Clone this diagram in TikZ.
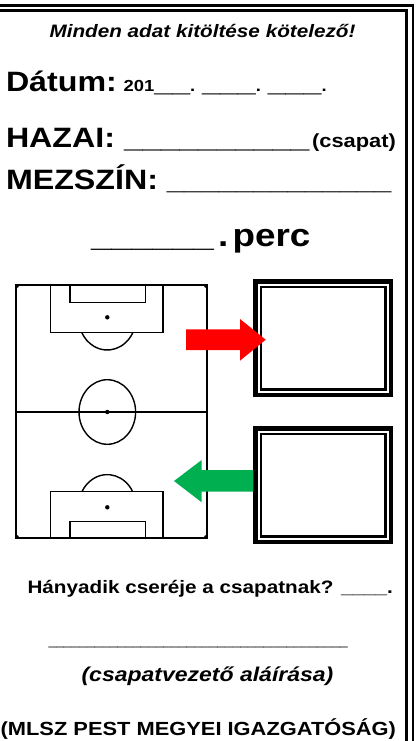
\documentclass[tikz,border=0pt]{standalone}
\usepackage{fontspec}
\setmainfont{Liberation Sans}[FakeStretch=1.15]
\definecolor{arrred}{HTML}{FF0000}
\definecolor{arrgreen}{HTML}{00B050}
\newcommand\setfs[1]{\fontsize{#1}{#1}\selectfont}
\begin{document}
\begin{tikzpicture}[x=1pt,y=-1pt,
  txt/.style={inner sep=0pt,outer sep=0pt,anchor=base west},
  fieldline/.style={line width=1.4pt},
  spot/.style={fill=black},
  dbox/.style={draw,line width=4.2pt,minimum width=135.8pt,minimum height=113.2pt,inner sep=0pt,outer sep=0pt},
  dboxin/.style={line width=2.8pt}]
\useasboundingbox (0,0) rectangle (415,741);
% page frame
\draw[line width=2.8pt,line join=miter] (-5,5.2) -| (413,750);
\draw[line width=3.4pt,line join=miter] (-5,10.4) -| (406.4,750);
% texts
\node[txt,anchor=base] (t1) at (202.5,37.5) {\setfs{18}\bfseries\itshape Minden adat kitöltése kötelező!};
\node[txt] (t2) at (6,92) {\setfs{28}\bfseries Dátum:{\setfs{16} 201}\_\_{\setfs{16}. }\_\_\_{\setfs{16}. }\_\_\_{\setfs{16}.}};
\node[txt] (t3) at (6,147.7) {\setfs{28}\bfseries HAZAI: {\setfs{29}\_\_\_\_\_\_\_\_\_\_}{\setfs{8} }{\setfs{19}(csapat)}};
\node[txt] (t4) at (6,189) {\setfs{28}\bfseries MEZSZÍN: {\setfs{27}\_\_\_\_\_\_\_\_\_\_\_\_\_}};
\node[txt] (t5) at (91,246.7) {\setfs{32}\bfseries \_\_\_\_\_\_{\setfs{14} }.{\setfs{10} }perc};
% field
\draw[fieldline] (16,285) rectangle (207,538);
\draw[fieldline] (16,412) -- (207,412);
\draw[fieldline] (107.3,412) ellipse [x radius=28.3pt, y radius=32.3pt];
\fill[spot] (107.3,412) circle [radius=2.2pt];
\draw[fieldline] (50.7,285) rectangle (163,332.7);
\draw[fieldline] (70,285) rectangle (145.7,302.7);
\fill[spot] (107.3,317.3) circle [radius=2.2pt];
\draw[fieldline] (132.8,332.7) arc[start angle=-28.1, end angle=-151.9, x radius=28.9pt, y radius=32.7pt];
\draw[fieldline] (50.7,491.7) rectangle (163,538);
\draw[fieldline] (70,521.7) rectangle (145.7,538);
\fill[spot] (107.3,507.3) circle [radius=2.2pt];
\draw[fieldline] (132.7,491.7) arc[start angle=28.5, end angle=151.5, x radius=28.9pt, y radius=32.7pt];
\draw[fieldline] (18.5,285) arc[start angle=0, end angle=-90, radius=2.5pt];
\draw[fieldline] (204.5,285) arc[start angle=180, end angle=270, radius=2.5pt];
\draw[fieldline] (18.5,538) arc[start angle=0, end angle=90, radius=2.5pt];
\draw[fieldline] (204.5,538) arc[start angle=180, end angle=90, radius=2.5pt];
% boxes
\node[dbox] (box1) at (323.3,338) {};
\draw[dboxin] ([shift={(5.5,5.5)}]box1.north west) rectangle ([shift={(-5.5,-5.5)}]box1.south east);
\node[dbox] (box2) at (323.3,485) {};
\draw[dboxin] ([shift={(5.5,5.5)}]box2.north west) rectangle ([shift={(-5.5,-5.5)}]box2.south east);
% arrows
\fill[arrred] (186,329.3) -- (240,329.3) -- (240,319) -- (265.7,339.7) -- (240,360.7) -- (240,350) -- (186,350) -- cycle;
\fill[arrgreen] (253.3,470) -- (201.7,470) -- (201.7,460) -- (174,481) -- (201.7,502.3) -- (201.7,491.7) -- (253.3,491.7) -- cycle;
% bottom texts
\node[txt] (t6) at (27.5,593.3) {\setfs{18}\bfseries Hányadik cseréje a csapatnak? \_\_\_\_.};
\node[txt,anchor=base] (t7) at (198.3,645) {\setfs{12}\_\_\_\_\_\_\_\_\_\_\_\_\_\_\_\_\_\_\_\_\_\_\_\_\_\_\_\_\_\_\_\_\_\_\_\_\_\_\_};
\node[txt,anchor=base] (t8) at (207.5,681.7) {\setfs{20}\bfseries\itshape (csapatvezető aláírása)};
\node[txt,anchor=base] (t9) at (198.3,735) {\setfs{19}\bfseries (MLSZ PEST MEGYEI IGAZGATÓSÁG)};
\end{tikzpicture}
\end{document}
